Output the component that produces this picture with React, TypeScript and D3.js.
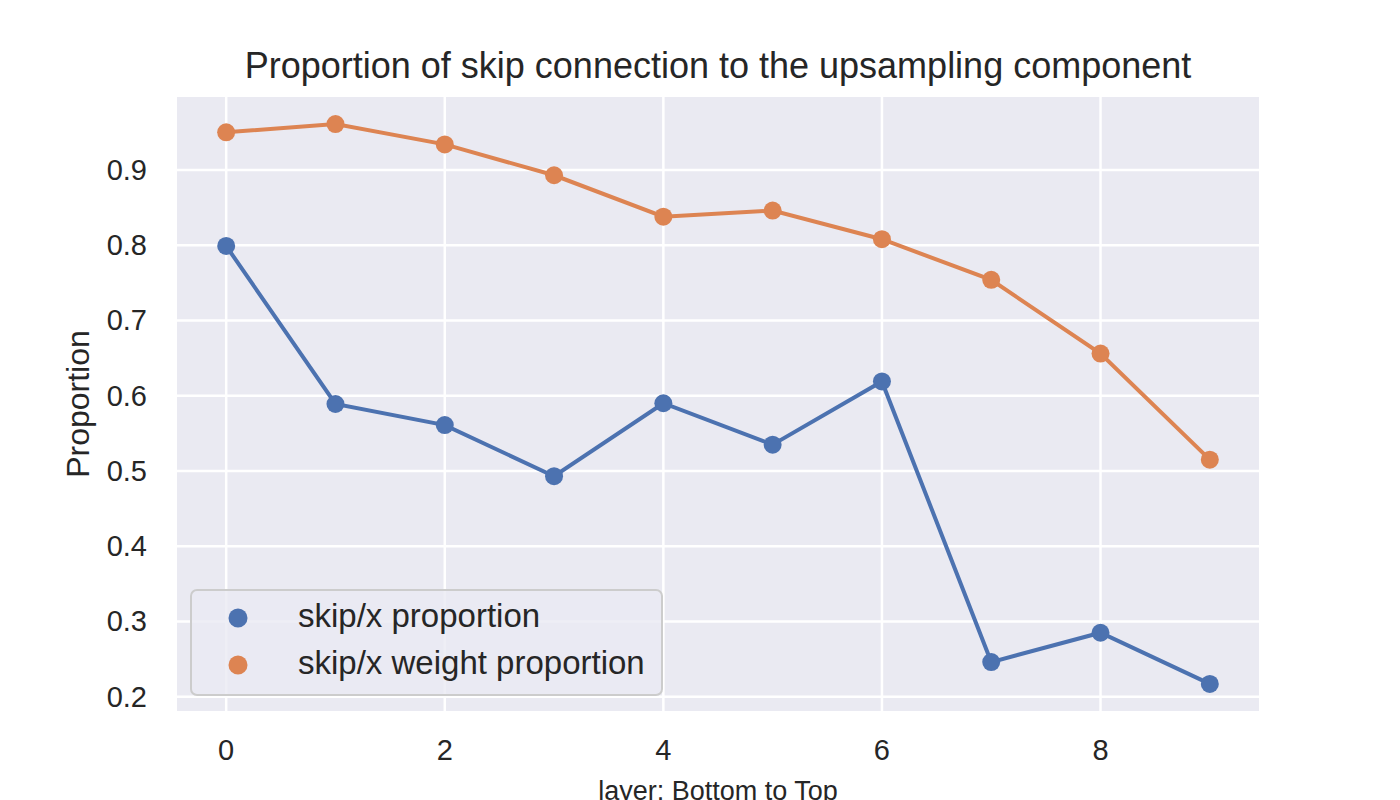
import React, { useEffect, useRef } from "react";
import * as d3 from "d3";

// layer index (bottom to top)
const layers = [0, 1, 2, 3, 4, 5, 6, 7, 8, 9];
const skipProportion = [0.799, 0.589, 0.561, 0.493, 0.59, 0.535, 0.619, 0.246, 0.285, 0.217];
const skipWeightProportion = [0.95, 0.961, 0.934, 0.893, 0.838, 0.846, 0.808, 0.754, 0.656, 0.515];
const seriesNames = ["skip/x proportion", "skip/x weight proportion"];
const xTicks = [0, 2, 4, 6, 8];
const yTicks = [0.2, 0.3, 0.4, 0.5, 0.6, 0.7, 0.8, 0.9];

const W = 1400;
const H = 800;
const FONT = "'Liberation Sans', Arial, sans-serif";
const colors = ["#4C72B0", "#DD8452"];

export default function App() {
  const ref = useRef<SVGSVGElement>(null);

  useEffect(() => {
    const svg = d3.select(ref.current);
    svg.selectAll("*").remove();

    const plot = { left: 177, right: 1259, top: 97, bottom: 711 };

    const x = d3.scaleLinear().domain([-0.45, 9.45]).range([plot.left, plot.right]);
    const y = d3.scaleLinear().domain([0.181, 0.997]).range([plot.bottom, plot.top]);

    // background
    svg.append("rect")
      .attr("x", plot.left).attr("y", plot.top)
      .attr("width", plot.right - plot.left).attr("height", plot.bottom - plot.top)
      .attr("fill", "#EAEAF2");

    // grid
    svg.selectAll(".gx").data(xTicks).enter().append("line")
      .attr("x1", d => x(d)).attr("x2", d => x(d))
      .attr("y1", plot.top).attr("y2", plot.bottom)
      .attr("stroke", "#fff").attr("stroke-width", 2.5);
    svg.selectAll(".gy").data(yTicks).enter().append("line")
      .attr("y1", d => y(d)).attr("y2", d => y(d))
      .attr("x1", plot.left).attr("x2", plot.right)
      .attr("stroke", "#fff").attr("stroke-width", 2.5);

    // tick labels
    svg.selectAll(".tx").data(xTicks).enter().append("text")
      .attr("x", d => x(d)).attr("y", 760)
      .attr("text-anchor", "middle")
      .attr("font-family", FONT).attr("font-size", 29).attr("fill", "#262626")
      .text(d => d);
    svg.selectAll(".ty").data(yTicks).enter().append("text")
      .attr("x", 147).attr("y", d => y(d) + 10)
      .attr("text-anchor", "end")
      .attr("font-family", FONT).attr("font-size", 29).attr("fill", "#262626")
      .text(d => d3.format(".1f")(d));

    // lines then markers
    const series = [skipProportion, skipWeightProportion];
    const line = d3.line<number>().x((_, i) => x(layers[i])).y(d => y(d));
    series.forEach((vals, k) => {
      svg.append("path")
        .attr("d", line(vals))
        .attr("fill", "none")
        .attr("stroke", colors[k])
        .attr("stroke-width", 4);
    });
    series.forEach((vals, k) => {
      svg.selectAll(".dot" + k).data(vals).enter().append("circle")
        .attr("cx", (_, i) => x(layers[i]))
        .attr("cy", d => y(d))
        .attr("r", 9)
        .attr("fill", colors[k]);
    });

    // legend
    const lg = svg.append("g");
    lg.append("rect")
      .attr("x", 191).attr("y", 590).attr("width", 471).attr("height", 105)
      .attr("rx", 6)
      .attr("fill", "#EAEAF2").attr("fill-opacity", 0.8)
      .attr("stroke", "#cccccc").attr("stroke-width", 2);
    seriesNames.forEach((name, k) => {
      const cy = 618 + k * 47;
      lg.append("circle").attr("cx", 238).attr("cy", cy).attr("r", 9.5).attr("fill", colors[k]);
      lg.append("text")
        .attr("x", 298).attr("y", cy + 9)
        .attr("font-family", FONT).attr("font-size", 33).attr("fill", "#262626")
        .text(name);
    });

    // title and axis labels
    svg.append("text")
      .attr("x", 718).attr("y", 78)
      .attr("text-anchor", "middle")
      .attr("font-family", FONT).attr("font-size", 36).attr("fill", "#262626")
      .text("Proportion of skip connection to the upsampling component");
    svg.append("text")
      .attr("x", 718).attr("y", 800)
      .attr("text-anchor", "middle")
      .attr("font-family", FONT).attr("font-size", 27).attr("fill", "#262626")
      .text("layer: Bottom to Top");
    svg.append("text")
      .attr("transform", `translate(89, ${(plot.top + plot.bottom) / 2}) rotate(-90)`)
      .attr("text-anchor", "middle")
      .attr("font-family", FONT).attr("font-size", 32).attr("fill", "#262626")
      .text("Proportion");
  }, []);

  return (
    <svg
      ref={ref}
      width={W}
      height={H}
      style={{ position: "absolute", left: 0, top: 0, background: "#fff", display: "block" }}
    />
  );
}
